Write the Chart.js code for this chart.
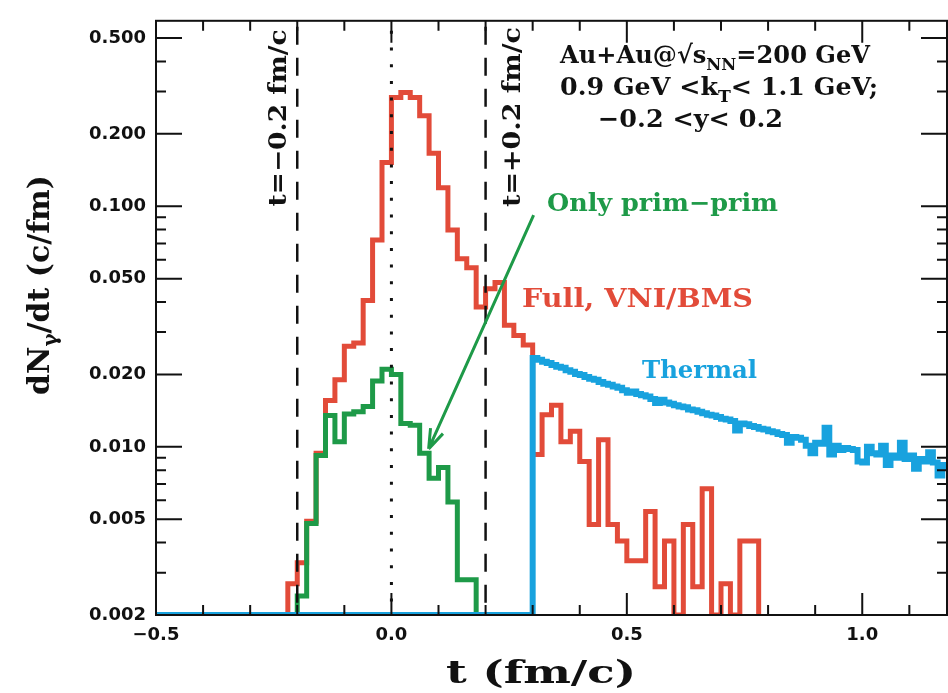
<!DOCTYPE html>
<html>
<head>
<meta charset="utf-8">
<script src="https://cdn.jsdelivr.net/npm/chart.js@4.4.1/dist/chart.umd.min.js"></script>
<style>
  html, body { margin: 0; padding: 0; background: #fff; }
  #wrap { width: 948px; height: 693px; }
</style>
</head>
<body>
<div id="wrap"><canvas id="chart"></canvas></div>
<script>
// photon emission time, full vs prim-prim vs thermal
var binWidth = 0.02;

var fullStart = -0.22;
var fullValues = [
    0.0027, 0.0033, 0.0049, 0.0094, 0.0156, 0.0190, 0.0262, 0.0270, 0.0406, 0.0724,
    0.152, 0.283, 0.297, 0.283, 0.238, 0.166, 0.1195, 0.0796, 0.0605, 0.0555,
    0.0381, 0.0454, 0.0482, 0.0320, 0.0290, 0.0265, 0.0093, 0.0136, 0.0149, 0.0105,
    0.0116, 0.0087, 0.00475, 0.0107, 0.00475, 0.00406, 0.00336, 0.00336, 0.00538, 0.00262,
    0.00406, 0, 0.00475, 0.00262, 0.00669, 0, 0.0027, 0, 0.00406, 0.00406
];

var primStart = -0.20;
var primValues = [
    0.0024, 0.0048, 0.0092, 0.0135, 0.0105, 0.0137, 0.0140, 0.0147, 0.0188, 0.0210,
    0.0200, 0.0125, 0.0123, 0.0094, 0.0074, 0.0082, 0.0059, 0.0028, 0.0028
];

var thermalStart = 0.30;
var thermalWidth = 0.01;
var thermalValues = [
    0.0234, 0.0230, 0.0226, 0.0223, 0.0219, 0.0215, 0.0213, 0.0208, 0.0205, 0.0201,
    0.0199, 0.0195, 0.0192, 0.0190, 0.0186, 0.0183, 0.0181, 0.0178, 0.0176, 0.0172,
    0.0168, 0.0170, 0.0166, 0.0164, 0.0162, 0.0158, 0.0152, 0.0157, 0.0153, 0.0151,
    0.0149, 0.0147, 0.0146, 0.0143, 0.0142, 0.0140, 0.0138, 0.0136, 0.0135, 0.0133,
    0.0131, 0.0130, 0.0128, 0.0117, 0.0125, 0.0124, 0.0122, 0.0121, 0.0119, 0.0118,
    0.0116, 0.0115, 0.0113, 0.0112, 0.0104, 0.0110, 0.0109, 0.0107, 0.0101, 0.0094,
    0.0104, 0.0103, 0.0120, 0.0093, 0.0101, 0.0097, 0.0099, 0.0098, 0.0097, 0.0087,
    0.0086, 0.0100, 0.0094, 0.0093, 0.0101, 0.0084, 0.0092, 0.0090, 0.0104, 0.0089,
    0.0092, 0.0081, 0.0089, 0.0087, 0.0095, 0.0086, 0.0076, 0.0084, 0.0080
];

var xTicks = [-0.5, 0.0, 0.5, 1.0];
var xMinorTicks = [-0.4, -0.3, -0.2, -0.1, 0.1, 0.2, 0.3, 0.4, 0.6, 0.7, 0.8, 0.9, 1.1];
var yTicks = [0.002, 0.005, 0.010, 0.020, 0.050, 0.100, 0.200, 0.500];
var yMinorTicks = [0.003, 0.004, 0.006, 0.007, 0.008, 0.009, 0.03, 0.04, 0.06, 0.07, 0.08, 0.09, 0.3, 0.4];
var markerTimes = [-0.2, 0.2];

var xMin = -0.5, xMax = 1.18, yMin = 0.002, yMax = 0.59;

var RED = '#e24b39', GREEN = '#1e9a48', BLUE = '#18a2de';
var SERIF = '"DejaVu Serif", serif';

// histogram as step points: left edges, empty bins sit on the floor
function histPoints(start, width, values, lead, closeToFloor) {
    var pts = [lead];
    values.forEach(function(v, i) {
        pts.push({ x: start + i * width, y: v > 0 ? v : yMin });
    });
    var last = values[values.length - 1];
    pts.push({ x: start + values.length * width, y: closeToFloor ? yMin : last });
    return pts;
}

function drawRich(ctx, pieces, x, y, opts) {
    var size = opts.size;
    var subSize = Math.round(size * 0.66);
    var widths = pieces.map(function(p) {
        ctx.font = 'bold ' + (p[1] ? subSize : size) + 'px ' + SERIF;
        return ctx.measureText(p[0]).width;
    });
    var total = widths.reduce(function(a, b) { return a + b; }, 0);
    var sx = opts.width ? opts.width / total : 1;
    ctx.save();
    ctx.translate(x, y);
    if (opts.rotate) ctx.rotate(opts.rotate);
    ctx.scale(sx, 1);
    ctx.fillStyle = opts.color || '#111';
    ctx.textBaseline = 'alphabetic';
    ctx.textAlign = 'left';
    var cx = opts.center ? -total / 2 : 0;
    var dy = opts.center ? size * 0.36 : 0;
    pieces.forEach(function(p, i) {
        ctx.font = 'bold ' + (p[1] ? subSize : size) + 'px ' + SERIF;
        ctx.fillText(p[0], cx, dy + (p[1] ? size * 0.28 : 0));
        cx += widths[i];
    });
    ctx.restore();
}

var decorations = {
    id: 'decorations',
    afterDatasetsDraw: function(chart) {
        var ctx = chart.ctx;
        var a = chart.chartArea;
        var xs = chart.scales.x;
        var ys = chart.scales.y;

        ctx.save();
        ctx.beginPath();
        ctx.rect(a.left, a.top, a.right - a.left, a.bottom - a.top);
        ctx.clip();

        ctx.strokeStyle = '#111';
        ctx.lineWidth = 2.5;
        ctx.setLineDash([18, 13]);
        markerTimes.forEach(function(t) {
            var px = xs.getPixelForValue(t);
            ctx.beginPath();
            ctx.moveTo(px, a.top + 6);
            ctx.lineTo(px, a.bottom);
            ctx.stroke();
        });

        ctx.lineWidth = 3;
        ctx.setLineDash([3, 13.7]);
        var p0 = xs.getPixelForValue(0);
        ctx.beginPath();
        ctx.moveTo(p0, a.top + 10);
        ctx.lineTo(p0, a.bottom);
        ctx.stroke();
        ctx.setLineDash([]);

        // arrow to the prim-prim curve
        var ax0 = xs.getPixelForValue(0.302), ay0 = ys.getPixelForValue(0.0919);
        var ax1 = xs.getPixelForValue(0.079), ay1 = ys.getPixelForValue(0.0098);
        ctx.strokeStyle = GREEN;
        ctx.lineWidth = 3;
        ctx.beginPath();
        ctx.moveTo(ax0, ay0);
        ctx.lineTo(ax1, ay1);
        var ang = Math.atan2(ay0 - ay1, ax0 - ax1);
        [-0.33, 0.33].forEach(function(d) {
            ctx.moveTo(ax1, ay1);
            ctx.lineTo(ax1 + 21 * Math.cos(ang + d), ay1 + 21 * Math.sin(ang + d));
        });
        ctx.stroke();
        ctx.restore();

        // frame and inward ticks
        ctx.save();
        ctx.strokeStyle = '#111';
        ctx.lineWidth = 2;
        ctx.strokeRect(a.left, a.top, a.right - a.left, a.bottom - a.top);
        ctx.beginPath();
        function xTick(t, len) {
            var px = xs.getPixelForValue(t);
            ctx.moveTo(px, a.bottom); ctx.lineTo(px, a.bottom - len);
            ctx.moveTo(px, a.top); ctx.lineTo(px, a.top + len);
        }
        function yTick(v, len) {
            var py = ys.getPixelForValue(v);
            ctx.moveTo(a.left, py); ctx.lineTo(a.left + len, py);
            ctx.moveTo(a.right, py); ctx.lineTo(a.right - len, py);
        }
        xTicks.forEach(function(t) { xTick(t, 22); });
        xMinorTicks.forEach(function(t) { xTick(t, 10); });
        yTicks.forEach(function(v) { yTick(v, 26); });
        yMinorTicks.forEach(function(v) { yTick(v, 10); });
        ctx.stroke();
        ctx.restore();

        // texts
        drawRich(ctx, [['t=\u22120.2 fm/c', false]], 277, 118, { size: 24, width: 177, rotate: -Math.PI / 2, center: true });
        drawRich(ctx, [['t=+0.2 fm/c', false]], 511, 117, { size: 24, width: 180, rotate: -Math.PI / 2, center: true });

        drawRich(ctx, [['Au+Au@\u221As', false], ['NN', true], ['=200 GeV', false]], 560, 63, { size: 25, width: 310 });
        drawRich(ctx, [['0.9 GeV <k', false], ['T', true], ['< 1.1 GeV;', false]], 560, 95, { size: 25, width: 318 });
        drawRich(ctx, [['\u22120.2 <y< 0.2', false]], 598, 127, { size: 25, width: 185 });

        drawRich(ctx, [['Only prim\u2212prim', false]], 547, 211, { size: 24, width: 231, color: GREEN });
        drawRich(ctx, [['Full, VNI/BMS', false]], 522, 307, { size: 26, width: 231, color: RED });
        drawRich(ctx, [['Thermal', false]], 642, 378, { size: 24, width: 115, color: BLUE });

        drawRich(ctx, [['t (fm/c)', false]], 541, 671, { size: 32, width: 190, center: true });
        drawRich(ctx, [['dN', false], ['\u03B3', true], ['/dt (c/fm)', false]], 38, 285, { size: 30, width: 220, rotate: -Math.PI / 2, center: true });
    }
};

var tickFont = { family: '"DejaVu Sans", sans-serif', weight: 'bold', size: 18 };

new Chart(document.getElementById('chart'), {
    type: 'line',
    data: {
        datasets: [
            {
                label: 'Thermal',
                data: histPoints(thermalStart, thermalWidth, thermalValues, { x: xMin, y: yMin }, false),
                borderColor: BLUE,
                borderWidth: 6
            },
            {
                label: 'Only prim-prim',
                data: histPoints(primStart, binWidth, primValues, { x: primStart, y: yMin }, true),
                borderColor: GREEN,
                borderWidth: 5
            },
            {
                label: 'Full, VNI/BMS',
                data: histPoints(fullStart, binWidth, fullValues, { x: fullStart, y: yMin }, true),
                borderColor: RED,
                borderWidth: 5
            }
        ]
    },
    options: {
        responsive: true,
        maintainAspectRatio: false,
        devicePixelRatio: 1,
        animation: false,
        events: [],
        layout: { padding: { top: 10, right: 1, left: 0, bottom: 0 } },
        elements: {
            line: { stepped: 'before', fill: false, tension: 0, borderJoinStyle: 'miter', borderCapStyle: 'butt' },
            point: { radius: 0 }
        },
        plugins: {
            legend: { display: false },
            tooltip: { enabled: false }
        },
        scales: {
            x: {
                type: 'linear',
                min: xMin,
                max: xMax,
                grid: { display: false, drawTicks: false },
                border: { display: false },
                afterBuildTicks: function(scale) {
                    scale.ticks = xTicks.map(function(v) { return { value: v }; });
                },
                afterFit: function(scale) { scale.height = 78; },
                ticks: {
                    autoSkip: false,
                    maxRotation: 0,
                    padding: 10,
                    color: '#111',
                    font: tickFont,
                    callback: function(value) {
                        return value.toFixed(1).replace('-', '\u2212');
                    }
                }
            },
            y: {
                type: 'logarithmic',
                min: yMin,
                max: yMax,
                grid: { display: false, drawTicks: false },
                border: { display: false },
                afterBuildTicks: function(scale) {
                    scale.ticks = yTicks.map(function(v) { return { value: v }; });
                },
                afterFit: function(scale) { scale.width = 156; },
                ticks: {
                    autoSkip: false,
                    padding: 10,
                    color: '#111',
                    font: tickFont,
                    callback: function(value) {
                        return Number(value).toFixed(3);
                    }
                }
            }
        }
    },
    plugins: [decorations]
});
</script>
</body>
</html>
